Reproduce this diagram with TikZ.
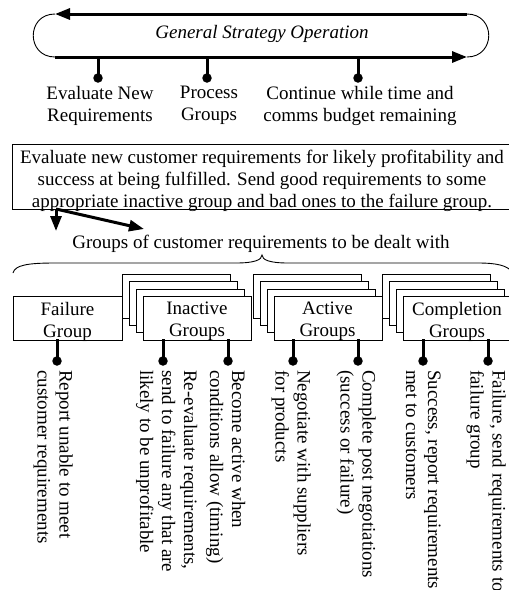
\documentclass[tikz,border=0pt]{standalone}
\usepackage{fontspec}
\setmainfont{Liberation Serif}
\usetikzlibrary{arrows.meta,positioning}

\begin{document}
\begin{tikzpicture}
[x=1pt,y=-1pt,
font=\fontsize{19}{22}\selectfont,
thinline/.style={line width=.9pt},
thickline/.style={line width=3pt},
bigarrow/.style={line width=3pt,-{Triangle[length=15pt,width=11pt]}},
dot/.style={circle,fill=black,inner sep=0pt,minimum size=9.5pt},
grpbox/.style={draw,thinline,fill=white,minimum width=108pt,minimum height=43.5pt,inner sep=0pt,anchor=north west},
grptext/.style={align=center,inner sep=0pt,anchor=north},
note/.style={align=left,inner sep=0pt,rotate=-90,anchor=north west}]

\useasboundingbox (0,0) rectangle (509,590);

% operation loop
\coordinate (ltop) at (55,14);
\coordinate (rtop) at (467,14);
\coordinate (lbot) at (55,57);
\coordinate (rbot) at (467,57);
\draw[bigarrow] (rtop) -- (ltop);
\draw[bigarrow] (lbot) -- (rbot);
\draw[thinline] (ltop) .. controls (26,14) and (26,57) .. (lbot);
\draw[thinline] (rtop) .. controls (496,14) and (496,57) .. (rbot);
\node (loop) at (262,34) {\itshape General Strategy Operation};

\foreach \x/\n in {98/1,207/2,358/3} {
  \coordinate (stem\n) at (\x,57);
  \draw[thickline] (stem\n) -- (\x,78);
  \node (step\n) [dot] at (\x,78) {};
}
\node (evalnew) [grptext] at (100,86) {Evaluate New\\Requirements};
\node (procgrp) [grptext] at (209,86) {Process\\Groups};
\node (contnote) [grptext] at (360,86) {Continue while time and\\comms budget remaining};

% evaluation box
\node (evalbox) [draw,thinline,minimum width=503pt,minimum height=65pt,inner sep=0pt,anchor=north west] at (12,144) {};
\node (evaltext) [grptext] at (262,150) {Evaluate new customer requirements for likely profitability and\\
success at being fulfilled. Send good requirements to some\\
appropriate inactive group and bad ones to the failure group.};
\coordinate (split) at (56,209);
\coordinate (tofail) at (56,231);
\coordinate (togrp) at (144,229);
\draw[bigarrow] (split) -- (tofail);
\draw[bigarrow] (split) -- (togrp);

\node (grpcap) [grptext] at (261,235) {Groups of customer requirements to be dealt with};
\draw[thinline] (13,273) .. controls (15,265) and (28,263) .. (55,263) -- (236,263)
  .. controls (254,263) and (262,260) .. (262,255)
  .. controls (262,260) and (270,263) .. (288,263) -- (478,263)
  .. controls (498,263) and (508,266) .. (512,272);

% group boxes
\node (failbox) [grpbox,minimum width=109pt] at (13,296) {};
\foreach \x/\name in {122/inact,252.5/act,382/compl} {
  \foreach \k in {0,1,2}
    \node[grpbox] at (\x+7*\k,274+7.3*\k) {};
  \node (\name box) [grpbox] at (\x+21,296) {};
}
\node (failtext) [grptext] at (67.5,302) {Failure\\Group};
\node (inacttext) [grptext] at (197,302) {Inactive\\Groups};
\node (acttext) [grptext] at (327.5,302) {Active\\Groups};
\node (compltext) [grptext] at (457,302) {Completion\\Groups};

\foreach \x/\n in {57/a,163/b,228/c,293/d,358/e,423/f,488/g} {
  \coordinate (base\n) at (\x,339);
  \draw[thickline] (base\n) -- (\x,361);
  \node (dot\n) [dot] at (\x,361) {};
}

% what each group does
\node (notea) [note] at (73,370) {Report unable to meet\\customer requirements};
\node (noteb) [note] at (197.5,370) {Re-evaluate requirements,\\send to failure any that are\\likely to be unprofitable};
\node (notec) [note] at (245.5,370) {Become active when\\conditions allow (timing)};
\node (noted) [note] at (311,370) {Negotiate with suppliers\\for products};
\node (notee) [note] at (376,370) {Complete post negotiations\\(success or failure)};
\node (notef) [note] at (441,370) {Success, report requirements\\met to customers};
\node (noteg) [note] at (506,370) {Failure, send requirements to\\failure group};
\end{tikzpicture}
\end{document}
